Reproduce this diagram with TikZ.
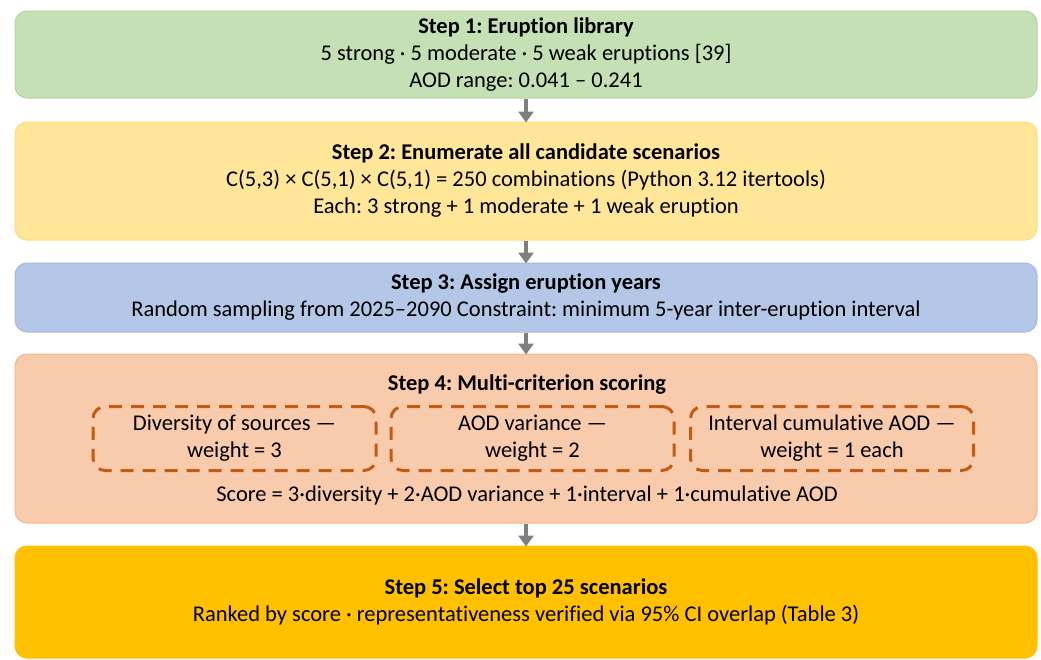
\documentclass[tikz,border=0pt]{standalone}
\usepackage{fontspec}
\setmainfont{Carlito}[Ligatures=NoCommon]
\usetikzlibrary{arrows.meta}
\frenchspacing

\definecolor{libfill}{HTML}{C5E0B4}
\definecolor{libline}{HTML}{B5D6A0}
\definecolor{enumfill}{HTML}{FFE699}
\definecolor{enumline}{HTML}{FFDC70}
\definecolor{yearfill}{HTML}{B4C7E7}
\definecolor{yearline}{HTML}{A3BAE2}
\definecolor{scorefill}{HTML}{F8CBAD}
\definecolor{scoreline}{HTML}{F4B78F}
\definecolor{topfill}{HTML}{FFC000}
\definecolor{critline}{HTML}{C55A11}
\definecolor{flowgray}{HTML}{7F7F7F}

\tikzset{
  stepbox/.style={rounded corners=12pt, minimum width=1022pt, align=center,
    inner sep=0pt, line width=1pt},
  critbox/.style={draw=critline, line width=3pt, rounded corners=12pt,
    dash pattern=on 13pt off 9pt, minimum width=283pt, minimum height=64pt,
    align=center, inner sep=0pt},
  flow/.style={draw=flowgray, line width=4pt,
    -{Triangle[width=15pt,length=11pt]}, shorten >=-1pt}
}

\begin{document}
\begin{tikzpicture}[x=1pt, y=-1pt, font=\fontsize{22.5}{27}\selectfont]
    \useasboundingbox (0,0) rectangle (1041,659);

    % the five steps
    \node[stepbox, fill=libfill, draw=libline, minimum height=87pt] (lib) at (526,54.5)
      {\textbf{Step 1: Eruption library}\\
       5 strong · 5 moderate · 5 weak eruptions [39]\\
       AOD range: 0.041 – 0.241};
    \node[stepbox, fill=enumfill, draw=enumline, minimum height=118pt] (enum) at (526,181)
      {\textbf{Step 2: Enumerate all candidate scenarios}\\
       C(5,3) × C(5,1) × C(5,1) = 250 combinations (Python 3.12 itertools)\\
       Each: 3 strong + 1 moderate + 1 weak eruption};
    \node[stepbox, fill=yearfill, draw=yearline, minimum height=69pt] (years) at (526,297.5)
      {\textbf{Step 3: Assign eruption years}\\
       Random sampling from 2025–2090 Constraint: minimum 5-year inter-eruption interval};
    \node[stepbox, fill=scorefill, draw=scoreline, minimum height=169pt] (score) at (526,438.5) {};
    \node[stepbox, fill=topfill, draw=topfill, minimum height=112pt] (top) at (526,602)
      {\textbf{Step 5: Select top 25 scenarios}\\
       Ranked by score · representativeness verified via 95\% CI overlap (Table 3)};

    % inside step 4
    \node[font=\fontsize{22.5}{27}\bfseries] (scoretitle) at (527,385) {Step 4: Multi-criterion scoring};
    \node[critbox] (div) at (234.5,438.5) {Diversity of sources —\\weight = 3};
    \node[critbox] (var) at (532.5,438.5) {AOD variance —\\weight = 2};
    \node[critbox] (cum) at (832,438.5) {Interval cumulative AOD —\\weight = 1 each};
    \node (formula) at (527,495)
      {Score = 3·diversity + 2·AOD variance + 1·interval + 1·cumulative AOD};

    \draw[flow] (lib) -- (enum);
    \draw[flow] (enum) -- (years);
    \draw[flow] (years) -- (score);
    \draw[flow] (score) -- (top);
\end{tikzpicture}
\end{document}
